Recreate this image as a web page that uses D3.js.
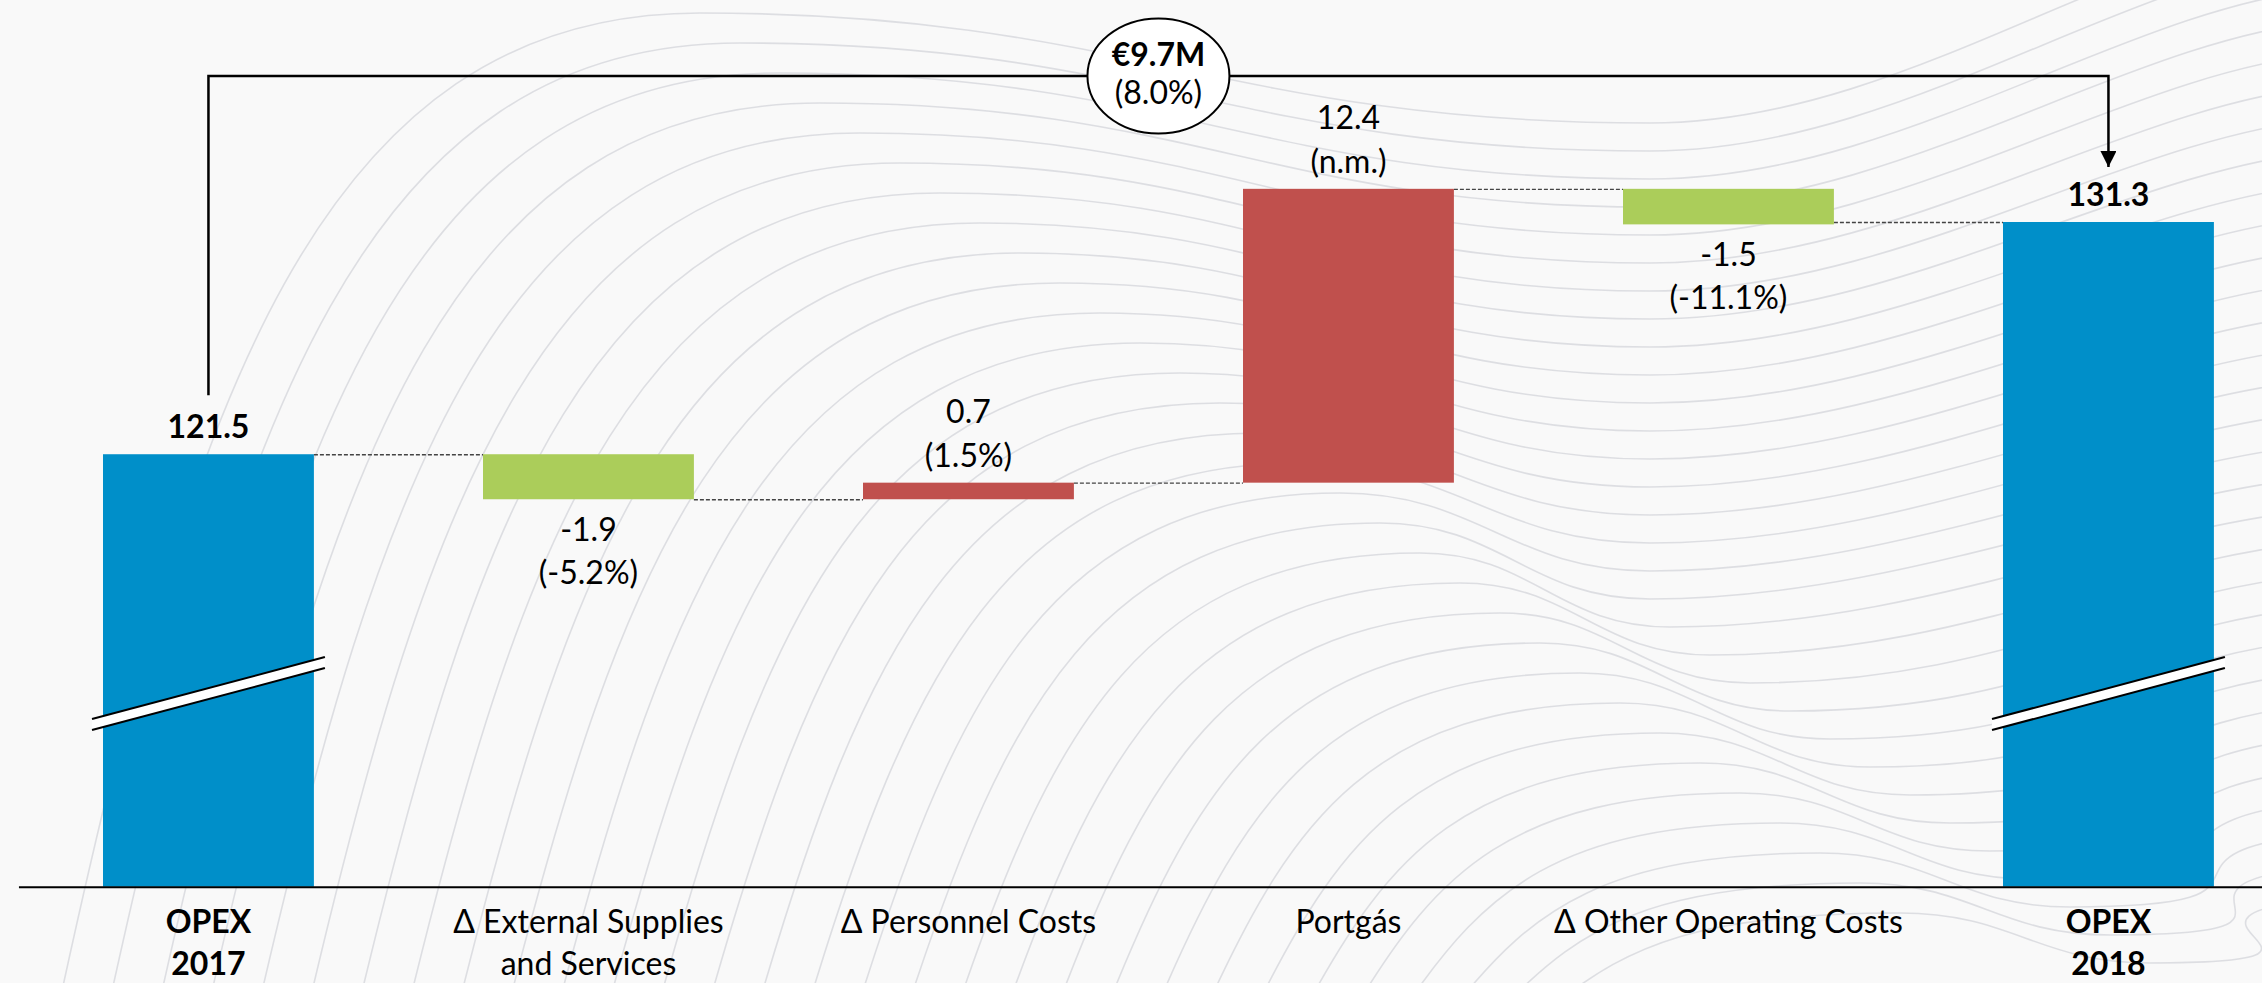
<!DOCTYPE html>
<html>
<head>
<meta charset="utf-8">
<script src="https://cdn.jsdelivr.net/npm/d3@7"></script>
<style>
  html, body { margin: 0; padding: 0; background: #f9f9f9; }
  svg { display: block; }
  text { font-family: Lato, "Open Sans", sans-serif; fill: #000; }
</style>
</head>
<body>
<svg id="chart" width="2262" height="983"></svg>
<script>
// ---- data ----
const categories = ["OPEX 2017", "Δ External Supplies and Services", "Δ Personnel Costs", "Portgás", "Δ Other Operating Costs", "OPEX 2018"];
const categoryLines = [["OPEX", "2017"], ["Δ External Supplies", "and Services"], ["Δ Personnel Costs"], ["Portgás"], ["Δ Other Operating Costs"], ["OPEX", "2018"]];
const values = [121.5, -1.9, 0.7, 12.4, -1.5, 131.3];
const kinds = ["total", "delta", "delta", "delta", "delta", "total"];
const valueLabels = ["121.5", "-1.9", "0.7", "12.4", "-1.5", "131.3"];
const pctLabels = ["", "(-5.2%)", "(1.5%)", "(n.m.)", "(-11.1%)", ""];
const bridgeLabel = "€9.7M";
const bridgePct = "(8.0%)";
const axisFloor = 103.25;   // broken value axis starts here
const breakValue = 111.4;   // where the axis break marks sit

// ---- layout ----
const W = 2262, H = 983;
const svg = d3.select("#chart");
const colors = { total: "#008fc9", up: "#c0504d", down: "#abcd5a" };

// background decoration (faint contour lines)
const bg = svg.append("g").attr("fill", "none").attr("stroke", "#d9dadf").attr("stroke-width", 1.6).attr("opacity", 0.85);
for (let i = 0; i < 31; i++) {
  const xs = 60 + 50 * i, xp = 700 + 40 * i, yp = 13 + 30 * i;
  const ym = yp + 110 - 2 * i, yr = yp - 90 + 2.5 * i;
  const xm = Math.max(1650, xp + 250);
  const p = d3.path();
  p.moveTo(xs, 1000);
  p.bezierCurveTo(xs + (xp - xs) * 0.2, yp + (1000 - yp) * 0.4, xp - (xp - xs) * 0.6, yp, xp, yp);
  p.bezierCurveTo(xp + (xm - xp) * 0.45, yp, xm - (xm - xp) * 0.45, ym, xm, ym);
  p.bezierCurveTo(xm + 250, ym, 2120, yr + 20, 2330, yr);
  bg.append("path").attr("d", p.toString());
}

const x = d3.scaleBand().domain(categories).range([18.45, 2298.45]).paddingInner(0.445).paddingOuter(0.2225);
const y = d3.scaleLinear().domain([axisFloor, 131.3]).range([886.7, 222]);

// compute waterfall geometry
let run = 0;
const bars = categories.map((c, i) => {
  let lo, hi, color;
  if (kinds[i] === "total") {
    lo = axisFloor; hi = values[i]; run = values[i]; color = colors.total;
  } else {
    const start = run; run = run + values[i];
    lo = Math.min(start, run); hi = Math.max(start, run);
    color = values[i] >= 0 ? colors.up : colors.down;
  }
  return { c, i, lo, hi, end: run, color, v: values[i] };
});

// connectors
const conn = svg.append("g");
for (let i = 0; i < bars.length - 1; i++) {
  const level = kinds[i] === "total" ? bars[i].hi : bars[i].end;
  const lvl = (i === bars.length - 2) ? values[bars.length - 1] : level;
  conn.append("line")
    .attr("x1", x(categories[i]) + x.bandwidth()).attr("x2", x(categories[i + 1]))
    .attr("y1", y(lvl) + 0.5).attr("y2", y(lvl) + 0.5)
    .attr("stroke", "#444").attr("stroke-width", 1.3).attr("stroke-dasharray", "4,2");
}

// bars
svg.append("g").selectAll("rect").data(bars).join("rect")
  .attr("x", d => x(d.c)).attr("width", x.bandwidth())
  .attr("y", d => y(d.hi)).attr("height", d => y(d.lo) - y(d.hi))
  .attr("fill", d => d.color);

// axis
const axisG = svg.append("g").attr("transform", `translate(0,${y(axisFloor)})`)
  .call(d3.axisBottom(x).tickSize(0).tickFormat(""));
axisG.select(".domain").attr("stroke", "#000").attr("stroke-width", 2);

// category labels
const catG = svg.append("g");
categoryLines.forEach((lines, i) => {
  const t = catG.append("text").attr("text-anchor", "middle")
    .attr("font-size", 32).attr("font-weight", kinds[i] === "total" ? 700 : 400);
  lines.forEach((ln, j) => {
    t.append("tspan").attr("x", x(categories[i]) + x.bandwidth() / 2)
      .attr("y", 933 + j * 42).text(ln);
  });
});

// break marks on total bars
bars.filter(d => kinds[d.i] === "total").forEach(d => {
  const x0 = x(d.c) - 11, x1 = x(d.c) + x.bandwidth() + 11;
  const yc = y(breakValue);
  const half = 62 / 2, gap = 11;
  const yl = yc + half, yr = yc - half;
  svg.append("polygon")
    .attr("points", `${x0},${yl - gap / 2} ${x1},${yr - gap / 2} ${x1},${yr + gap / 2} ${x0},${yl + gap / 2}`)
    .attr("fill", "#fff");
  [-gap / 2, gap / 2].forEach(o => {
    svg.append("line").attr("x1", x0).attr("y1", yl + o).attr("x2", x1).attr("y2", yr + o)
      .attr("stroke", "#000").attr("stroke-width", 2);
  });
});

// value labels
const lab = svg.append("g").attr("text-anchor", "middle").attr("font-size", 32);
bars.forEach(d => {
  const cx = x(d.c) + x.bandwidth() / 2;
  if (kinds[d.i] === "total") {
    lab.append("text").attr("x", cx).attr("y", y(d.hi) - 16).attr("font-weight", 700).text(valueLabels[d.i]);
  } else if (d.v >= 0) {
    lab.append("text").attr("x", cx).attr("y", y(d.hi) - 60).text(valueLabels[d.i]);
    lab.append("text").attr("x", cx).attr("y", y(d.hi) - 16).text(pctLabels[d.i]);
  } else {
    lab.append("text").attr("x", cx).attr("y", y(d.lo) + 42).text(valueLabels[d.i]);
    lab.append("text").attr("x", cx).attr("y", y(d.lo) + 85).text(pctLabels[d.i]);
  }
});

// bridge bracket with arrow
const xa = x(categories[0]) + x.bandwidth() / 2;
const xb = x(categories[5]) + x.bandwidth() / 2;
const yTop = 76;
svg.append("defs").append("marker").attr("id", "arr")
  .attr("viewBox", "0 0 10 10").attr("refX", 10).attr("refY", 5)
  .attr("markerWidth", 16).attr("markerHeight", 16).attr("markerUnits", "userSpaceOnUse")
  .attr("orient", "auto")
  .append("path").attr("d", "M0,0 L10,5 L0,10 Z").attr("fill", "#000");
svg.append("path")
  .attr("d", `M${xa},${y(values[0]) - 59} V${yTop} H${xb} V${y(values[5]) - 55}`)
  .attr("fill", "none").attr("stroke", "#000").attr("stroke-width", 2.5)
  .attr("marker-end", "url(#arr)");
const mx = (xa + xb) / 2;
svg.append("ellipse").attr("cx", mx).attr("cy", yTop).attr("rx", 71).attr("ry", 57.5)
  .attr("fill", "#fff").attr("stroke", "#000").attr("stroke-width", 2);
svg.append("text").attr("x", mx).attr("y", 66).attr("text-anchor", "middle")
  .attr("font-size", 32).attr("font-weight", 700).text(bridgeLabel);
svg.append("text").attr("x", mx).attr("y", 104).attr("text-anchor", "middle")
  .attr("font-size", 32).text(bridgePct);
</script>
</body>
</html>
